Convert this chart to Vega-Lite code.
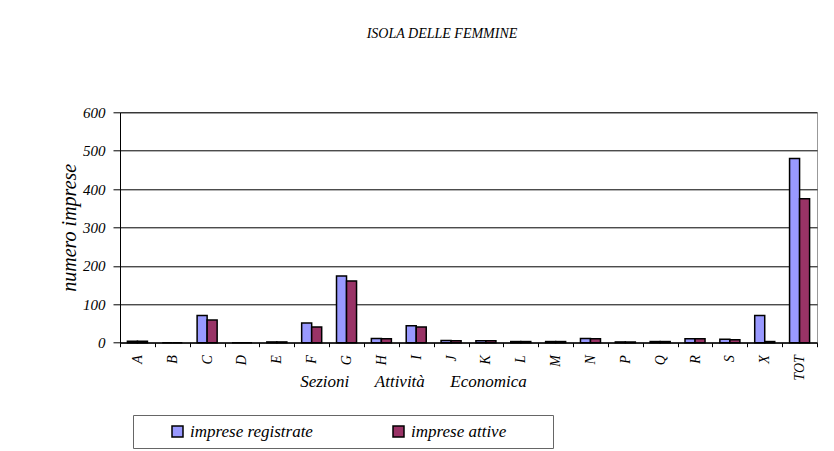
{
  "$schema": "https://vega.github.io/schema/vega-lite/v6.json",
  "width": 697,
  "height": 230.4,
  "autosize": {"type": "none"},
  "padding": {"left": 120, "top": 112.3, "right": 17, "bottom": 108.3},
  "background": "white",
  "title": {
    "text": "ISOLA DELLE FEMMINE",
    "font": "Liberation Serif",
    "fontStyle": "italic",
    "fontWeight": "normal",
    "fontSize": 14,
    "color": "black",
    "anchor": "middle",
    "dx": -26.5,
    "offset": 64
  },
  "data": {
    "values": [
      {"sez": "A", "serie": "imprese registrate", "val": 4},
      {"sez": "A", "serie": "imprese attive", "val": 4},
      {"sez": "B", "serie": "imprese registrate", "val": 0},
      {"sez": "B", "serie": "imprese attive", "val": 0},
      {"sez": "C", "serie": "imprese registrate", "val": 71},
      {"sez": "C", "serie": "imprese attive", "val": 59},
      {"sez": "D", "serie": "imprese registrate", "val": 0},
      {"sez": "D", "serie": "imprese attive", "val": 0},
      {"sez": "E", "serie": "imprese registrate", "val": 2},
      {"sez": "E", "serie": "imprese attive", "val": 2},
      {"sez": "F", "serie": "imprese registrate", "val": 51},
      {"sez": "F", "serie": "imprese attive", "val": 41},
      {"sez": "G", "serie": "imprese registrate", "val": 174},
      {"sez": "G", "serie": "imprese attive", "val": 161},
      {"sez": "H", "serie": "imprese registrate", "val": 11},
      {"sez": "H", "serie": "imprese attive", "val": 10},
      {"sez": "I", "serie": "imprese registrate", "val": 44},
      {"sez": "I", "serie": "imprese attive", "val": 41},
      {"sez": "J", "serie": "imprese registrate", "val": 6},
      {"sez": "J", "serie": "imprese attive", "val": 5},
      {"sez": "K", "serie": "imprese registrate", "val": 5},
      {"sez": "K", "serie": "imprese attive", "val": 5},
      {"sez": "L", "serie": "imprese registrate", "val": 3},
      {"sez": "L", "serie": "imprese attive", "val": 3},
      {"sez": "M", "serie": "imprese registrate", "val": 3},
      {"sez": "M", "serie": "imprese attive", "val": 3},
      {"sez": "N", "serie": "imprese registrate", "val": 11},
      {"sez": "N", "serie": "imprese attive", "val": 10},
      {"sez": "P", "serie": "imprese registrate", "val": 2},
      {"sez": "P", "serie": "imprese attive", "val": 2},
      {"sez": "Q", "serie": "imprese registrate", "val": 3},
      {"sez": "Q", "serie": "imprese attive", "val": 3},
      {"sez": "R", "serie": "imprese registrate", "val": 10},
      {"sez": "R", "serie": "imprese attive", "val": 10},
      {"sez": "S", "serie": "imprese registrate", "val": 9},
      {"sez": "S", "serie": "imprese attive", "val": 8},
      {"sez": "X", "serie": "imprese registrate", "val": 71},
      {"sez": "X", "serie": "imprese attive", "val": 3},
      {"sez": "TOT", "serie": "imprese registrate", "val": 480},
      {"sez": "TOT", "serie": "imprese attive", "val": 375}
    ]
  },
  "mark": {"type": "bar", "stroke": "black", "strokeWidth": 1.5},
  "encoding": {
    "x": {
      "field": "sez",
      "type": "nominal",
      "sort": null,
      "scale": {"paddingInner": 0, "paddingOuter": 0},
      "axis": {
        "title": "Sezioni\u00a0\u00a0\u00a0\u00a0\u00a0\u00a0Attività\u00a0\u00a0\u00a0\u00a0\u00a0\u00a0Economica",
        "titleFont": "Liberation Serif",
        "titleFontStyle": "italic",
        "titleFontWeight": "normal",
        "titleFontSize": 17,
        "titleColor": "black",
        "titleAnchor": null,
        "titleX": 293,
        "titleY": 44,
        "titleAlign": "center",
        "titleBaseline": "alphabetic",
        "labelAngle": 270,
        "labelFont": "Liberation Serif",
        "labelFontStyle": "italic",
        "labelFontSize": 14,
        "labelColor": "black",
        "labelPadding": 8,
        "tickSize": 4,
        "tickColor": "black",
        "tickBand": "extent",
        "domainColor": "black",
        "grid": false
      }
    },
    "xOffset": {
      "field": "serie",
      "type": "nominal",
      "sort": ["imprese registrate", "imprese attive"],
      "scale": {"paddingInner": 0, "paddingOuter": 0.74}
    },
    "y": {
      "field": "val",
      "type": "quantitative",
      "scale": {"domain": [0, 600], "nice": false},
      "axis": {
        "title": "numero imprese",
        "titleFont": "Liberation Serif",
        "titleFontStyle": "italic",
        "titleFontWeight": "normal",
        "titleFontSize": 20,
        "titleColor": "black",
        "titleAngle": 270,
        "titleX": -51,
        "titleY": 115,
        "titleAlign": "center",
        "titleBaseline": "middle",
        "values": [0, 100, 200, 300, 400, 500, 600],
        "labelFont": "Liberation Serif",
        "labelFontStyle": "italic",
        "labelFontSize": 15,
        "labelColor": "black",
        "labelPadding": 8,
        "tickSize": 7,
        "tickColor": "black",
        "domainColor": "black",
        "grid": true,
        "gridColor": "black",
        "gridOpacity": 1
      }
    },
    "color": {
      "field": "serie",
      "type": "nominal",
      "scale": {
        "domain": ["imprese registrate", "imprese attive"],
        "range": ["#9999FF", "#993366"]
      },
      "legend": {
        "title": null,
        "orient": "none",
        "legendX": 13,
        "legendY": 302.7,
        "direction": "horizontal",
        "columns": 2,
        "strokeColor": "#666666",
        "padding": 8,
        "symbolType": "square",
        "symbolSize": 121,
        "symbolStrokeColor": "black",
        "symbolStrokeWidth": 1.5,
        "symbolOffset": 28,
        "labelOffset": 4,
        "columnPadding": 10,
        "labelFont": "Liberation Serif",
        "labelFontStyle": "italic",
        "labelFontSize": 17,
        "labelColor": "black",
        "labelLimit": 500,
        "labelExpr": "datum.label + '\u00a0\u00a0\u00a0\u00a0\u00a0\u00a0\u00a0\u00a0\u00a0\u200b'"
      }
    }
  },
  "config": {
    "view": {"stroke": "#999999", "strokeWidth": 1},
    "axis": {"domainWidth": 1, "tickWidth": 1, "gridWidth": 1}
  }
}
